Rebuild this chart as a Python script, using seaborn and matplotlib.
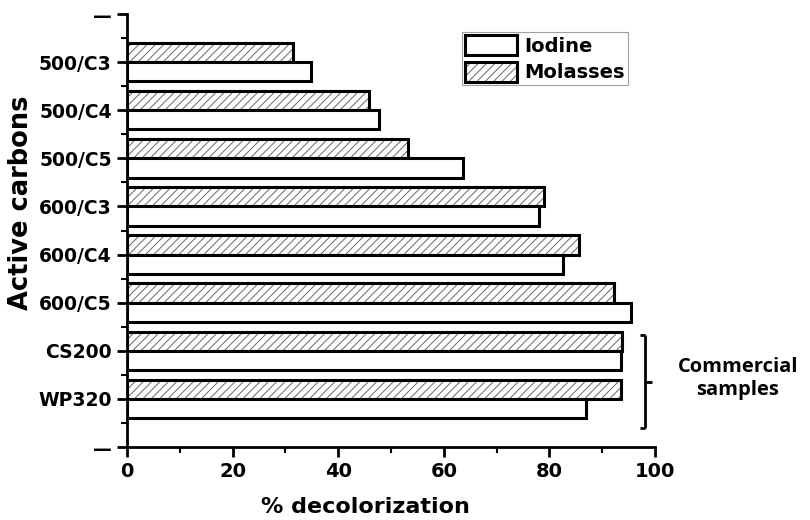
import matplotlib
matplotlib.use('Agg')
import matplotlib.pyplot as plt
import seaborn as sns
import pandas as pd
import numpy as np
from matplotlib.patches import Rectangle
from matplotlib.lines import Line2D
from matplotlib.ticker import FixedLocator, MultipleLocator

# ---- data ----
carbons = ['500/C3', '500/C4', '500/C5', '600/C3', '600/C4', '600/C5', 'CS200', 'WP320']
iodine = [34.8, 47.8, 63.7, 78.1, 82.5, 95.5, 93.5, 86.9]
molasses = [31.4, 45.8, 53.3, 79.0, 85.6, 92.2, 93.7, 93.6]
series = ['Iodine', 'Molasses']
x_ticks = [0, 20, 40, 60, 80, 100]
end_label = '—'
bracket_text = 'Commercial\nsamples'

sns.set_theme(style='ticks')
plt.rcParams['font.family'] = ['DejaVu Sans']
plt.rcParams['hatch.linewidth'] = 0.7

narrow = ['DejaVu Sans Condensed', 'Liberation Sans Narrow', 'DejaVu Sans']

df = pd.DataFrame({
    'carbon': carbons * 2,
    'series': [series[0]] * len(carbons) + [series[1]] * len(carbons),
    'value': iodine + molasses,
})

W, H = 810, 520
fig = plt.figure(figsize=(W / 100, H / 100), dpi=100)
ax = fig.add_axes([127 / W, 1 - 447 / H, 528 / W, 433 / H])

sns.barplot(data=df, y='carbon', x='value', hue='series',
            hue_order=['Molasses', 'Iodine'], order=carbons, orient='h',
            width=0.8, palette={'Molasses': 'white', 'Iodine': 'white'},
            saturation=1, edgecolor='black', linewidth=2.2, legend=False, ax=ax)

for bar in ax.containers[0]:
    bar.set_hatch('////')
    bar._hatch_color = (0.4, 0.4, 0.4, 1)

ax.set_xlim(0, 100)
ax.set_ylim(len(carbons), -1)
ax.set_xticks(x_ticks)
ax.set_xticklabels([str(t) for t in x_ticks])
ax.xaxis.set_minor_locator(MultipleLocator(10))
ax.set_yticks(range(-1, len(carbons) + 1))
ax.set_yticklabels([end_label] + carbons + [end_label])
ax.yaxis.set_minor_locator(FixedLocator(np.arange(-0.5, len(carbons), 1)))

for s in ['top', 'right']:
    ax.spines[s].set_visible(False)
for s in ['left', 'bottom']:
    ax.spines[s].set_linewidth(2)
    ax.spines[s].set_color('black')

ax.tick_params(axis='both', which='major', direction='out', length=7, width=2, color='black')
ax.tick_params(axis='both', which='minor', direction='out', length=4, width=1.5, color='black')
ax.tick_params(axis='y', which='major', pad=4)
ax.tick_params(axis='x', which='major', pad=4)

for lab in ax.get_yticklabels():
    lab.set_fontsize(13.5)
    lab.set_fontweight('bold')
    lab.set_color('black')
for lab in ax.get_xticklabels():
    lab.set_family(narrow)
    lab.set_fontsize(14)
    lab.set_fontweight('bold')
    lab.set_color('black')

ax.set_xlabel('% decolorization', fontsize=16, fontweight='bold',
              family=narrow, color='black')
ax.xaxis.set_label_coords((365 - 127) / 528, -0.115)
ax.set_ylabel('Active carbons', fontsize=18.5, fontweight='bold', color='black')
ax.yaxis.set_label_coords(-0.177, 0.564)

# legend (Iodine first)
h_iod = Rectangle((0, 0), 1, 1, facecolor='white', edgecolor='black', linewidth=2.2)
h_mol = Rectangle((0, 0), 1, 1, facecolor='white', edgecolor='black', linewidth=2.2, hatch='////')
h_mol._hatch_color = (0.4, 0.4, 0.4, 1)
leg = ax.legend([h_iod, h_mol], series, loc='upper left',
                bbox_to_anchor=((462 - 127) / 528, (447 - 32) / 433), borderaxespad=0,
                prop={'weight': 'bold', 'size': 14}, handlelength=2.7, handleheight=1.25,
                labelspacing=0.3, handletextpad=0.35, borderpad=0.15, fancybox=False,
                frameon=True)
leg.get_frame().set_edgecolor('#888888')
leg.get_frame().set_linewidth(0.8)
for t in leg.get_texts():
    t.set_color('black')

# bracket for commercial samples
def fx(px):
    return px / W

def fy(py):
    return 1 - py / H

bx, top, bot, mid = 645, 335, 428, 382
for xs, ys in [([bx, bx], [top, bot]), ([bx - 5, bx], [top, top]),
               ([bx - 5, bx], [bot, bot]), ([bx, bx + 7], [mid, mid])]:
    fig.add_artist(Line2D([fx(v) for v in xs], [fy(v) for v in ys],
                          color='black', linewidth=2, solid_capstyle='butt'))
fig.text(fx(738), fy(379), bracket_text, ha='center', va='center',
         fontsize=14.5, fontweight='bold', family=['Open Sans', 'DejaVu Sans'],
         linespacing=1.2, color='black')

fig.savefig('out.png', dpi=100)
